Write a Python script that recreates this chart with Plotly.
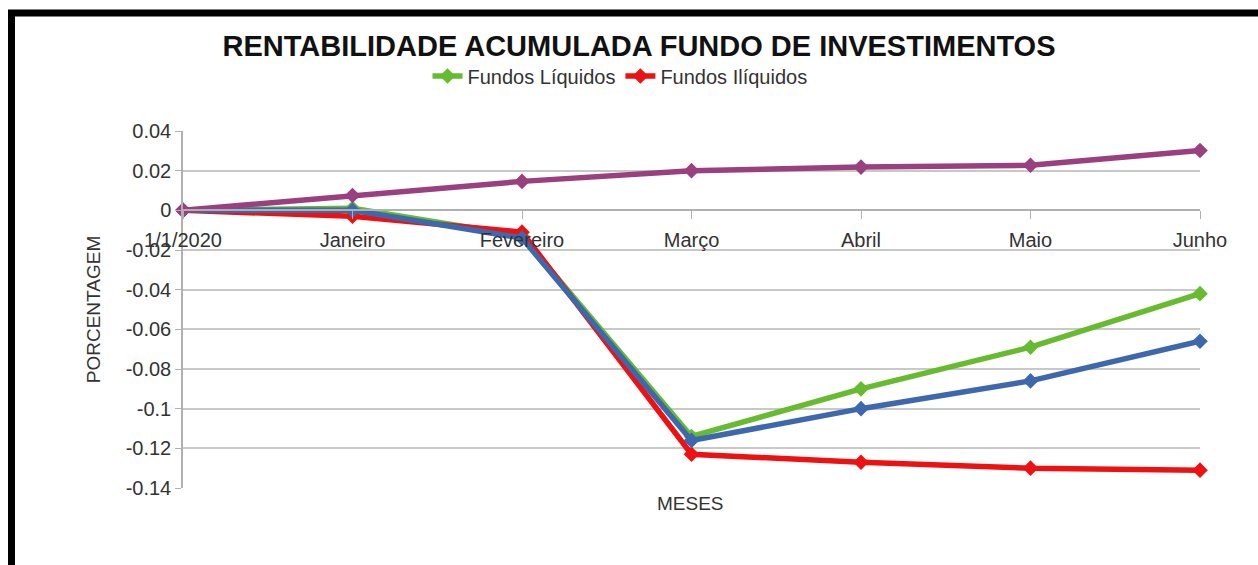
import plotly.graph_objects as go

# ---- data ----
categories = ["1/1/2020", "Janeiro", "Fevereiro", "Março", "Abril", "Maio", "Junho"]
fundos_liquidos = [0.0, 0.001, -0.013, -0.114, -0.090, -0.069, -0.042]
fundos_iliquidos = [0.0, -0.003, -0.011, -0.123, -0.127, -0.130, -0.131]
serie_azul = [0.0, 0.0, -0.014, -0.116, -0.100, -0.086, -0.066]
serie_roxa = [0.0, 0.0075, 0.0146, 0.020, 0.0218, 0.0227, 0.0302]

y_ticks = [0.04, 0.02, 0, -0.02, -0.04, -0.06, -0.08, -0.1, -0.12, -0.14]
y_tick_text = ["0.04", "0.02", "0", "-0.02", "-0.04", "-0.06", "-0.08", "-0.1", "-0.12", "-0.14"]
grid_ticks = [0.02, 0, -0.02, -0.04, -0.06, -0.08, -0.1, -0.12]

FONT = "Liberation Sans, Arial, sans-serif"

fig = go.Figure()

def add(name, values, color, show):
    fig.add_trace(go.Scatter(
        x=categories, y=values, name=name, mode="lines+markers",
        line=dict(color=color, width=5.5),
        marker=dict(symbol="diamond", size=12, color=color),
        showlegend=show, cliponaxis=False,
    ))

add("Fundos Líquidos", fundos_liquidos, "#66BB2E", True)
add("Fundos Ilíquidos", fundos_iliquidos, "#EE1111", True)
add("Série 3", serie_azul, "#3D68AE", False)
add("Série 4", serie_roxa, "#9A3F7F", False)

fig.update_layout(
    width=1258, height=565,
    margin=dict(l=183, r=58, t=131, b=77),
    paper_bgcolor="white", plot_bgcolor="white",
    font=dict(family=FONT, color="#333333"),
    title=dict(text="<b>RENTABILIDADE ACUMULADA FUNDO DE INVESTIMENTOS</b>",
               x=0.508, xanchor="center", y=1 - 46/565, yanchor="middle",
               font=dict(size=29, color="#111111", family=FONT)),
    legend=dict(orientation="h", x=0.4297, xanchor="center", y=(488-76)/357, yanchor="middle",
                font=dict(size=20, color="#333333"), bgcolor="rgba(0,0,0,0)",
                itemwidth=30, tracegroupgap=0),
    xaxis=dict(type="category", range=[0, 6], anchor="free", position=0.7778,
               showgrid=False, showline=True, linecolor="#b0b0b0", linewidth=1.5,
               ticks="outside", ticklen=8, tickcolor="#b0b0b0",
               tickfont=dict(size=20, color="#333333"), ticklabelstandoff=4,
               zeroline=False),
    yaxis=dict(range=[-0.14, 0.04], tickvals=grid_ticks, showticklabels=False,
               showgrid=True, gridcolor="#c8c8c8", gridwidth=1.5,
               showline=False, ticks="", zeroline=False),
    yaxis2=dict(range=[-0.14, 0.04], overlaying="y", side="left", anchor="x",
                tickvals=y_ticks, ticktext=y_tick_text, showgrid=False,
                showline=True, linecolor="#b0b0b0", linewidth=1.5,
                ticks="outside", ticklen=6, tickcolor="#b0b0b0",
                tickfont=dict(size=20, color="#333333"), zeroline=False,
                title=dict(text="PORCENTAGEM", font=dict(size=19, color="#333333"), standoff=20)),
    annotations=[dict(text="MESES", xref="paper", yref="paper", x=(690-183)/1017,
                      y=(488-503)/357, showarrow=False, xanchor="center", yanchor="middle",
                      font=dict(size=19, color="#333333"))],
    shapes=[dict(type="rect", xref="paper", yref="paper",
                 x0=(11.5-183)/1017, y0=(488-13)/357, x1=1.08, y1=-0.26,
                 line=dict(color="black", width=7), layer="above")],
)

# dummy trace to activate yaxis2 (no visible marks)
fig.add_trace(go.Scatter(x=[categories[0]], y=[None], yaxis="y2", showlegend=False,
                         hoverinfo="skip", mode="markers"))

fig.write_html("out.html", config={"displayModeBar": False},
               post_script="document.body.style.margin='0';document.body.style.overflow='hidden';")
